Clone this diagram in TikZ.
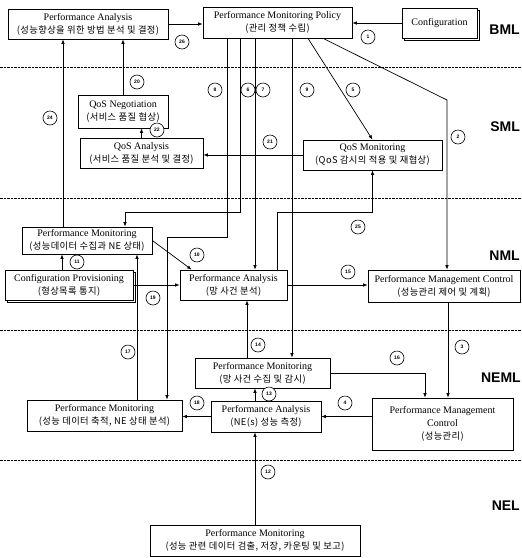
\documentclass[tikz,border=0pt]{standalone}
\usepackage{fontspec}
\setmainfont{Liberation Serif}
\newfontfamily\krfont[LetterSpace=4]{Noto Sans CJK KR}
\newfontfamily\layerfont{Liberation Sans}
\usetikzlibrary{arrows.meta,calc,shadows}
\newcommand{\ko}[1]{{\krfont\fontsize{9.3}{13}\selectfont #1}}

\begin{document}
\begin{tikzpicture}[x=1pt,y=-1pt,
    box/.style={draw, line width=0.7pt, fill=white, align=center, inner sep=1pt,
        font=\fontsize{10}{13}\selectfont},
    stack/.style={box, copy shadow={shadow xshift=2pt, shadow yshift=-2pt}},
    arr/.style={line width=0.7pt, -{Latex[length=4.5pt,width=3.5pt]}},
    tag/.style={circle, draw, line width=0.6pt, fill=white, inner sep=0pt,
        minimum size=14pt, font=\layerfont\bfseries\fontsize{5}{5}\selectfont},
    layer/.style={dash pattern=on 2.5pt off 1pt, line width=0.5pt},
    lname/.style={anchor=east, inner sep=0pt, font=\layerfont\bfseries\fontsize{14}{14}\selectfont}]

    \useasboundingbox (0,0) rectangle (522,558);

    % --- Layer borders ---
    \draw[layer] (0,67) -- (522,67);
    \draw[layer] (0,198) -- (522,198);
    \draw[layer] (0,330) -- (522,330);
    \draw[layer] (0,460) -- (522,460);
    \node[lname] (bml) at (520,30) {BML};
    \node[lname] (sml) at (520,127) {SML};
    \node[lname] (nml) at (520,256) {NML};
    \node[lname] (neml) at (521,378) {NEML};
    \node[lname] (nel) at (520,506) {NEL};

    % --- BML boxes ---
    \node[box, minimum width=160pt, minimum height=30pt] (paTop) at (88,24)
        {Performance Analysis\\ \ko{(성능향상을 위한 방법 분석 및 결정)}};
    \node[box, minimum width=149pt, minimum height=31pt] (policy) at (277.5,22.5)
        {Performance Monitoring Policy\\ \ko{(관리 정책 수립)}};
    \node[stack, minimum width=75pt, minimum height=30pt] (config) at (439.5,23)
        {Configuration};

    % --- SML boxes ---
    \node[box, minimum width=90pt, minimum height=33pt] (qosNeg) at (123,111.5)
        {QoS Negotiation\\ \ko{(서비스 품질 협상)}};
    \node[box, minimum width=123pt, minimum height=30pt] (qosAna) at (141.5,153)
        {QoS Analysis\\ \ko{(서비스 품질 분석 및 결정)}};
    \node[box, minimum width=139pt, minimum height=30pt] (qosMon) at (372.5,155)
        {QoS Monitoring\\ \ko{(QoS 감시의 적용 및 재협상)}};

    % --- NML boxes ---
    \node[box, minimum width=130pt, minimum height=27pt] (pmNml) at (87,240.5)
        {Performance Monitoring\\ \ko{(성능데이터 수집과 NE 상태)}};
    \node[stack, minimum width=128pt, minimum height=30pt] (cfgProv) at (69,285)
        {Configuration Provisioning\\ \ko{(형상목록 통지)}};
    \node[box, minimum width=107pt, minimum height=30pt] (paNml) at (233.5,285)
        {Performance Analysis\\ \ko{(망 사건 분석)}};
    \node[box, minimum width=152pt, minimum height=32pt] (pmcNml) at (444,286)
        {Performance Management Control\\ \ko{(성능관리 제어 및 계획)}};

    % --- NEML boxes ---
    \node[box, minimum width=135pt, minimum height=30pt] (pmNeml) at (262.5,373)
        {Performance Monitoring\\ \ko{(망 사건 수집 및 감시)}};
    \node[box, minimum width=110pt, minimum height=31pt] (paNe) at (266,416.5)
        {Performance Analysis\\ \ko{(NE(s) 성능 측정)}};
    \node[box, minimum width=141pt, minimum height=52pt] (pmcNeml) at (442.5,424)
        {Performance Management\\ Control\\ \ko{(성능관리)}};
    \node[box, minimum width=155pt, minimum height=31pt] (pmAcc) at (104.5,415.5)
        {Performance Monitoring\\ \ko{(성능 데이터 축적, NE 상태 분석)}};

    % --- NEL box ---
    \node[box, minimum width=210pt, minimum height=31pt] (pmNel) at (255,540.5)
        {Performance Monitoring\\ \ko{(성능 관련 데이터 검출, 저장, 카운팅 및 보고)}};

    % --- Outlets and bends ---
    \coordinate (p5) at ([xshift=30.5pt]policy.south);
    \coordinate (p2) at ([xshift=45.5pt]policy.south);
    \coordinate (p6) at ([xshift=-37.5pt]policy.south);
    \coordinate (p7) at ([xshift=-22.5pt]policy.south);
    \coordinate (p8) at ([xshift=-50.5pt]policy.south);
    \coordinate (p9) at ([xshift=14.5pt]policy.south);
    \coordinate (bend2) at (447,100);
    \coordinate (in6) at ([xshift=38pt]pmNml.north);
    \coordinate (in8) at ([xshift=62.5pt]pmAcc.north);
    \coordinate (out24) at ([xshift=-24pt]pmNml.north);
    \coordinate (out11) at ([xshift=-7pt]cfgProv.north);
    \coordinate (in10) at ([xshift=12pt]paNml.north west);
    \coordinate (out25) at ([xshift=43.5pt]paNml.north);
    \coordinate (out14) at ([xshift=-15.5pt]pmNeml.north);
    \coordinate (out13) at ([xshift=-11pt]paNe.north);
    \coordinate (in16) at ([xshift=-17.5pt]pmcNeml.north);
    \coordinate (out3) at ([xshift=4pt]pmcNml.south);
    \coordinate (out17) at ([xshift=32.5pt]pmAcc.north);

    % --- Connectors ---
    \draw[arr] (config.west) -- (config.west -| policy.east);
    \draw[arr] (paTop.east) -- (paTop.east -| policy.west);
    \draw[arr] (qosNeg.north) -- (qosNeg.north |- paTop.south);
    \draw[arr] (qosAna.north) -- (qosAna.north |- qosNeg.south);
    \draw[arr] (qosMon.west) -- (qosMon.west -| qosAna.east);
    \draw[arr] (p5) -- (qosMon.north);
    \draw[arr] (p2) -- (bend2) -- (bend2 |- pmcNml.north);
    \draw[arr] (p7) -- (p7 |- paNml.north);
    \draw[arr] (p9) -- (p9 |- pmNeml.north);
    \draw[arr] (p6) -- ++(0,174) -| (in6);
    \draw[arr] (p8) -- ++(0,199) -| (in8);
    \draw[arr] (out24) -- (out24 |- paTop.south);
    \draw[arr] (out11) -- (out11 |- pmNml.south);
    \draw[arr] (cfgProv.east) -- (cfgProv.east -| paNml.west);
    \draw[arr] (pmNml.east) -- (in10);
    \draw[arr] (out25) -- ++(0,-57) -| (qosMon.south);
    \draw[arr] (paNml.east) -- (paNml.east -| pmcNml.west);
    \draw[arr] (out14) -- (out14 |- paNml.south);
    \draw[arr] (out13) -- (out13 |- pmNeml.south);
    \draw[arr] (paNe.west) -- (paNe.west -| pmAcc.east);
    \draw[arr] (pmcNeml.west |- paNe.east) -- (paNe.east);
    \draw[arr] (pmNeml.east) -| (in16);
    \draw[arr] (out3) -- (out3 |- pmcNeml.north);
    \draw[arr] (out17) -- (out17 |- pmNml.south);
    \draw[arr] (pmNel.north) -- (pmNel.north |- paNe.south);

    % --- Step numbers ---
    \node[tag] (t1) at (368,37) {1};
    \node[tag] (t2) at (458,137) {2};
    \node[tag] (t3) at (462,347) {3};
    \node[tag] (t4) at (345,403) {4};
    \node[tag] (t5) at (353,90) {5};
    \node[tag] (t6) at (248,90) {6};
    \node[tag] (t7) at (263,90) {7};
    \node[tag] (t8) at (215,90) {8};
    \node[tag] (t9) at (307,90) {9};
    \node[tag] (t10) at (197,255) {10};
    \node[tag] (t11) at (77,262) {11};
    \node[tag] (t12) at (268,472) {12};
    \node[tag] (t13) at (269,394) {13};
    \node[tag] (t14) at (258,345) {14};
    \node[tag] (t15) at (348,272) {15};
    \node[tag] (t16) at (397,358) {16};
    \node[tag] (t17) at (128,352) {17};
    \node[tag] (t18) at (197,403) {18};
    \node[tag] (t19) at (153,298) {19};
    \node[tag] (t20) at (137,82) {20};
    \node[tag] (t21) at (270,142) {21};
    \node[tag] (t22) at (157,130) {22};
    \node[tag] (t24) at (50,118) {24};
    \node[tag] (t25) at (358,227) {25};
    \node[tag] (t26) at (182,42) {26};

\end{tikzpicture}
\end{document}
